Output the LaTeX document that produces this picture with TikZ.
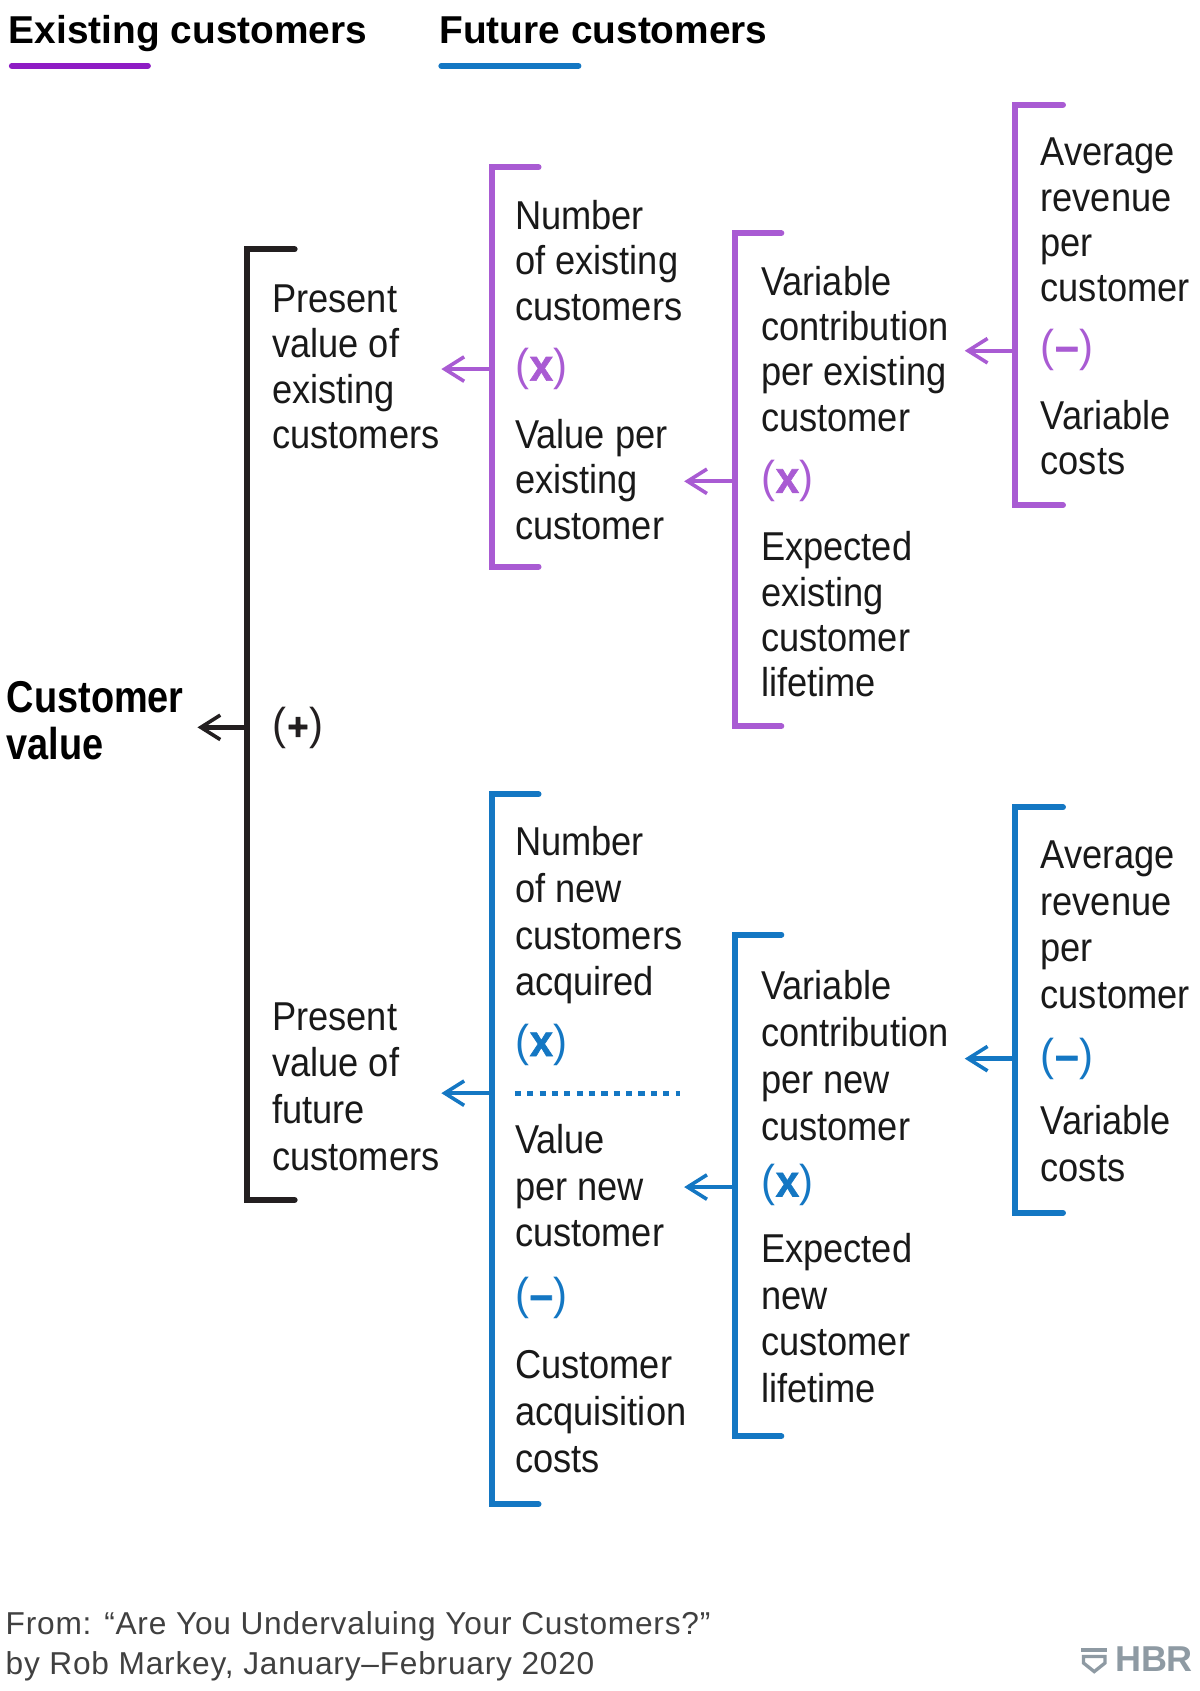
\documentclass[tikz,border=0pt]{standalone}
\usepackage{fontspec}
\setmainfont{Liberation Sans}
\newfontfamily\bodyfont{Liberation Sans}[FakeStretch=0.9]
\newfontfamily\oprfont{Liberation Sans}[FakeStretch=0.94, BoldFeatures={FakeBold=1.4}]
\newfontfamily\headfont{Liberation Sans}
\newfontfamily\keyfont{Liberation Sans}[FakeStretch=0.85]
\newfontfamily\sourcefont{Liberation Sans}[LetterSpace=2.5]
\usetikzlibrary{arrows.meta}
\definecolor{hbrblack}{HTML}{231F20}
\definecolor{hbrpurple}{HTML}{8E1CC4}
\definecolor{lightpurple}{HTML}{A95BD3}
\definecolor{hbrblue}{HTML}{1477C3}
\definecolor{hbrgrey}{HTML}{8E9AA3}
\newcommand{\ls}{\rule{0pt}{22pt}}
\def\sqbracket[#1](#2)(#3:#4:#5){\draw[#1] (#5, #3) -- (#2, #3) -- (#2, #4) -- (#5, #4);}
\def\optimes{(\kern0.5pt{\bfseries x}\kern0.5pt)}
\def\opminus{(\kern0.5pt{\bfseries –}\kern0.5pt)}
\def\opplus{(\kern0.8pt{\bfseries\fontsize{27}{30}\selectfont +}\kern0.8pt)}
\tikzset{
	x=0.75pt, y=-0.75pt,
	txt/.style={anchor=north west, inner sep=0pt, align=left, text=black!90,
		font=\bodyfont\fontsize{28}{31.5}\selectfont},
	txtwide/.style={txt, font=\bodyfont\fontsize{28}{32.55}\selectfont},
	head/.style={anchor=base west, inner sep=0pt, font=\headfont\bfseries\fontsize{27}{30}\selectfont},
	opr/.style={anchor=west, inner sep=0pt, font=\oprfont\fontsize{31}{34}\selectfont},
	brk/.style={line width=4.2pt, line cap=round, miter limit=10},
	arw/.style={line width=3pt, -{Straight Barb[length=13.5pt, width=17pt, line width=2.5pt]}},
}
\begin{document}
\begin{tikzpicture}
			%%%%% START %%%%%
			\useasboundingbox (0, 0) rectangle (1112, 1567);
			
			\node[head] (hexist) at (8, 40) {Existing customers};
			\node[head] (hfuture) at (407, 40) {Future customers};
			\draw[line width=4.2pt, line cap=round, color=hbrpurple] (11, 61) -- (137, 61);
			\draw[line width=4.2pt, line cap=round, color=hbrblue] (409, 61) -- (536, 61);
			
			% main bracket
			\sqbracket[brk, color=hbrblack](229)(231:1112:273);
			\node[txt, font=\keyfont\bfseries\fontsize{31}{32.25}\selectfont, text=black] (cvalue) at (6, 631) {\ls Customer\\value};
			\node[opr, text=hbrblack] (oplus) at (252, 675) {\opplus};
			\coordinate (cfrom) at (229, 674);
			\coordinate (cto) at (183, 674);
			\draw[arw, color=hbrblack] (cfrom) -- (cto);
			
			% existing customers
			\node[txt] (pvexist) at (252, 260) {\ls Present\\value of\\existing\\customers};
			\sqbracket[brk, color=lightpurple](456)(155:525:499);
			\sqbracket[brk, color=lightpurple](681)(216:673:724);
			\sqbracket[brk, color=lightpurple](941)(97:468:985);
			
			\node[txt] (nexist) at (477, 183) {\ls Number\\of existing\\customers};
			\node[opr, text=lightpurple] (oxa) at (477, 342) {\optimes};
			\node[txt] (vexist) at (477, 386) {\ls Value per\\existing\\customer};
			
			\node[txt] (cexist) at (705, 244) {\ls Variable\\contribution\\per existing\\customer};
			\node[opr, text=lightpurple] (oxb) at (705, 446) {\optimes};
			\node[txt] (lexist) at (705, 490) {\ls Expected\\existing\\customer\\lifetime};
			
			\node[txt] (rexist) at (964, 124) {\ls Average\\revenue\\per\\customer};
			\node[opr, text=lightpurple] (omc) at (964, 324) {\opminus};
			\node[txt] (kexist) at (964, 368) {\ls Variable\\costs};
			
			\coordinate (pafrom) at (456, 342);
			\coordinate (pato) at (409, 342);
			\coordinate (pbfrom) at (681, 446);
			\coordinate (pbto) at (634, 446);
			\coordinate (pcfrom) at (941, 325);
			\coordinate (pcto) at (894, 325);
			\draw[arw, color=lightpurple] (pafrom) -- (pato);
			\draw[arw, color=lightpurple] (pbfrom) -- (pbto);
			\draw[arw, color=lightpurple] (pcfrom) -- (pcto);
			
			% future customers
			\node[txtwide] (pvfuture) at (252, 925) {\ls Present\\value of\\future\\customers};
			\sqbracket[brk, color=hbrblue](456)(736:1394:499);
			\sqbracket[brk, color=hbrblue](681)(866:1331:724);
			\sqbracket[brk, color=hbrblue](941)(748:1124:985);
			
			\node[txtwide] (nnew) at (477, 763) {\ls Number\\of new\\customers\\acquired};
			\node[opr, text=hbrblue] (oxd) at (477, 968) {\optimes};
			\draw[line width=3.6pt, dash pattern=on 4.3pt off 4.3pt, color=hbrblue] (477, 1013) -- (630, 1013);
			\node[txtwide] (vnew) at (477, 1039) {\ls Value\\per new\\customer};
			\node[opr, text=hbrblue] (ome) at (477, 1203) {\opminus};
			\node[txtwide] (acq) at (477, 1248) {\ls Customer\\acquisition\\costs};
			
			\node[txtwide] (cnew) at (705, 897) {\ls Variable\\contribution\\per new\\customer};
			\node[opr, text=hbrblue] (oxf) at (705, 1098) {\optimes};
			\node[txtwide] (lnew) at (705, 1140) {\ls Expected\\new\\customer\\lifetime};
			
			\node[txtwide] (rnew) at (964, 775) {\ls Average\\revenue\\per\\customer};
			\node[opr, text=hbrblue] (omg) at (964, 981) {\opminus};
			\node[txtwide] (knew) at (964, 1022) {\ls Variable\\costs};
			
			\coordinate (bafrom) at (456, 1013);
			\coordinate (bato) at (409, 1013);
			\coordinate (bbfrom) at (681, 1100);
			\coordinate (bbto) at (634, 1100);
			\coordinate (bcfrom) at (941, 981);
			\coordinate (bcto) at (894, 981);
			\draw[arw, color=hbrblue] (bafrom) -- (bato);
			\draw[arw, color=hbrblue] (bbfrom) -- (bbto);
			\draw[arw, color=hbrblue] (bcfrom) -- (bcto);
			
			% source and logo
			\node[txt, font=\sourcefont\fontsize{22}{27.75}\selectfont, text=black!75] (source) at (5, 1485) {\ls From: “Are You Undervaluing Your Customers?”\\by Rob Markey, January–February 2020};
			\node[anchor=base west, inner sep=0pt, text=hbrgrey, font=\bfseries\fontsize{25}{25}\selectfont] (hbr) at (1033, 1549) {HBR};
			\draw[line width=2.3pt, color=hbrgrey] (1002, 1529) -- (1026, 1529);
			\draw[line width=2.3pt, color=hbrgrey] (1004, 1535) -- (1024, 1535) -- (1024, 1541) -- (1014, 1549) -- (1004, 1541) -- cycle;
			
			%%%%% END %%%%%
		\end{tikzpicture}
\end{document}
